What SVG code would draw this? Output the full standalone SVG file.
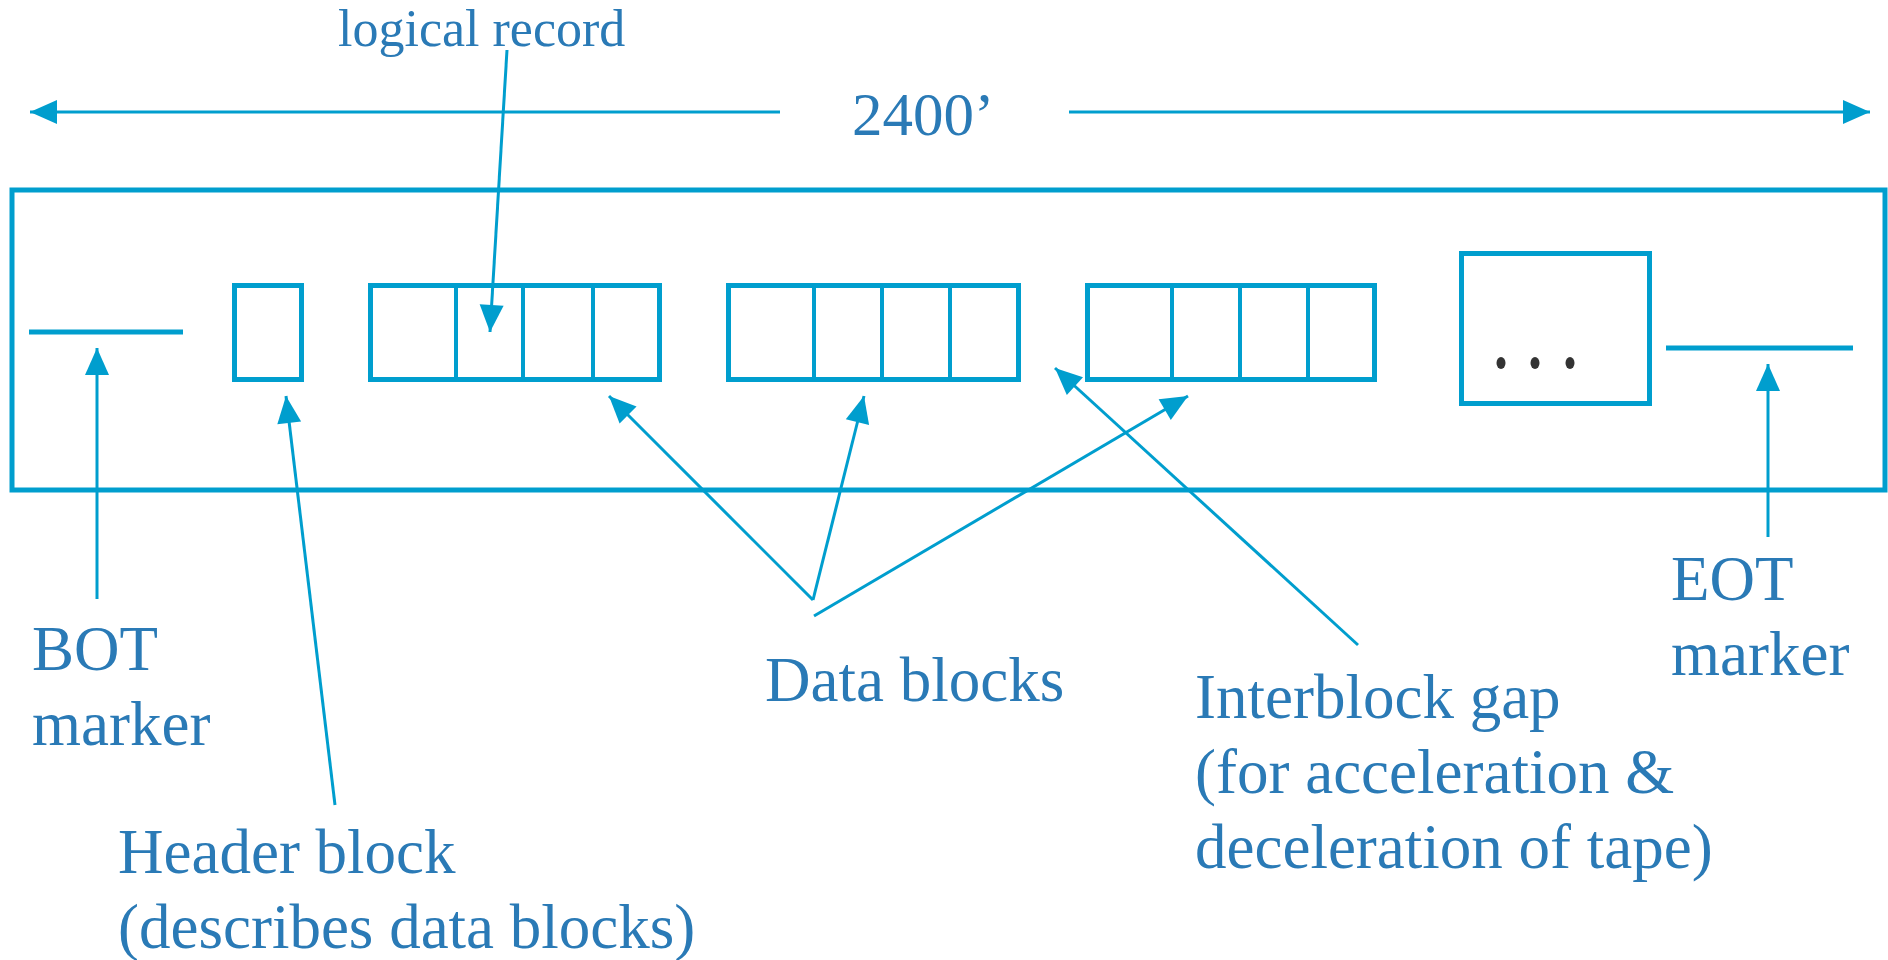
<svg xmlns="http://www.w3.org/2000/svg" width="1888" height="960" viewBox="0 0 1888 960">
<style>
.box{fill:none;stroke:#009ECE;stroke-width:5}
.div{fill:none;stroke:#009ECE;stroke-width:4}
.mk{stroke:#009ECE;stroke-width:5}
.ln{fill:none;stroke:#009ECE;stroke-width:3}
.t{font-family:"Liberation Serif","Times New Roman",serif;font-size:63px;fill:#2A7AB6}
</style>
<defs>
<marker id="ah" viewBox="-28 -13 30 26" refX="0" refY="0" markerWidth="30" markerHeight="26" markerUnits="userSpaceOnUse" orient="auto">
<path d="M0,0 L-27,-12 L-27,12 Z" fill="#009ECE"/>
</marker>
</defs>
<rect width="1888" height="960" fill="#fff"/>
<g id="tape"><rect class="box" x="12" y="190" width="1873" height="300"/></g>
<g id="bot-marker"><line class="mk" x1="29" y1="332" x2="183" y2="332"/></g>
<g id="header-block"><rect class="box" x="234.5" y="285.5" width="67" height="94"/></g>
<g id="data-block-1">
<rect class="box" x="370.5" y="285.5" width="289" height="94"/>
<line class="div" x1="456" y1="285" x2="456" y2="380"/>
<line class="div" x1="523" y1="285" x2="523" y2="380"/>
<line class="div" x1="593" y1="285" x2="593" y2="380"/>
</g>
<g id="data-block-2">
<rect class="box" x="728.5" y="285.5" width="290" height="94"/>
<line class="div" x1="814" y1="285" x2="814" y2="380"/>
<line class="div" x1="882" y1="285" x2="882" y2="380"/>
<line class="div" x1="950" y1="285" x2="950" y2="380"/>
</g>
<g id="data-block-3">
<rect class="box" x="1087.5" y="285.5" width="287" height="94"/>
<line class="div" x1="1172" y1="285" x2="1172" y2="380"/>
<line class="div" x1="1240" y1="285" x2="1240" y2="380"/>
<line class="div" x1="1308" y1="285" x2="1308" y2="380"/>
</g>
<g id="more-blocks">
<rect class="box" x="1461.5" y="253.5" width="188" height="150"/>
<ellipse cx="1501" cy="363" rx="4.5" ry="6" fill="#333"/>
<ellipse cx="1535" cy="363" rx="4.5" ry="6" fill="#333"/>
<ellipse cx="1570" cy="363" rx="4.5" ry="6" fill="#333"/>
</g>
<g id="eot-marker"><line class="mk" x1="1666" y1="348" x2="1853" y2="348"/></g>
<g id="connectors">
<line class="ln" x1="780" y1="112" x2="30" y2="112" marker-end="url(#ah)"/>
<line class="ln" x1="1069" y1="112" x2="1870" y2="112" marker-end="url(#ah)"/>
<line class="ln" x1="507" y1="50" x2="490" y2="332" marker-end="url(#ah)"/>
<line class="ln" x1="97" y1="599" x2="97" y2="348" marker-end="url(#ah)"/>
<line class="ln" x1="335" y1="805" x2="286" y2="396" marker-end="url(#ah)"/>
<line class="ln" x1="813" y1="600" x2="609" y2="396" marker-end="url(#ah)"/>
<line class="ln" x1="813" y1="600" x2="864" y2="396" marker-end="url(#ah)"/>
<line class="ln" x1="814" y1="616" x2="1188" y2="396" marker-end="url(#ah)"/>
<line class="ln" x1="1358" y1="645" x2="1055" y2="368" marker-end="url(#ah)"/>
<line class="ln" x1="1768" y1="537" x2="1768" y2="364" marker-end="url(#ah)"/>
</g>
<g id="labels">
<text class="t" x="852" y="135" style="font-size:61px">2400’</text>
<text class="t" x="338" y="46" style="font-size:52px">logical record</text>
<text class="t" x="32" y="670">BOT</text>
<text class="t" x="32" y="745">marker</text>
<text class="t" x="118" y="873">Header block</text>
<text class="t" x="118" y="948">(describes data blocks)</text>
<text class="t" x="765" y="701">Data blocks</text>
<text class="t" x="1195" y="718">Interblock gap</text>
<text class="t" x="1195" y="793">(for acceleration &amp;</text>
<text class="t" x="1195" y="868">deceleration of tape)</text>
<text class="t" x="1671" y="600">EOT</text>
<text class="t" x="1671" y="675">marker</text>
</g>
</svg>
